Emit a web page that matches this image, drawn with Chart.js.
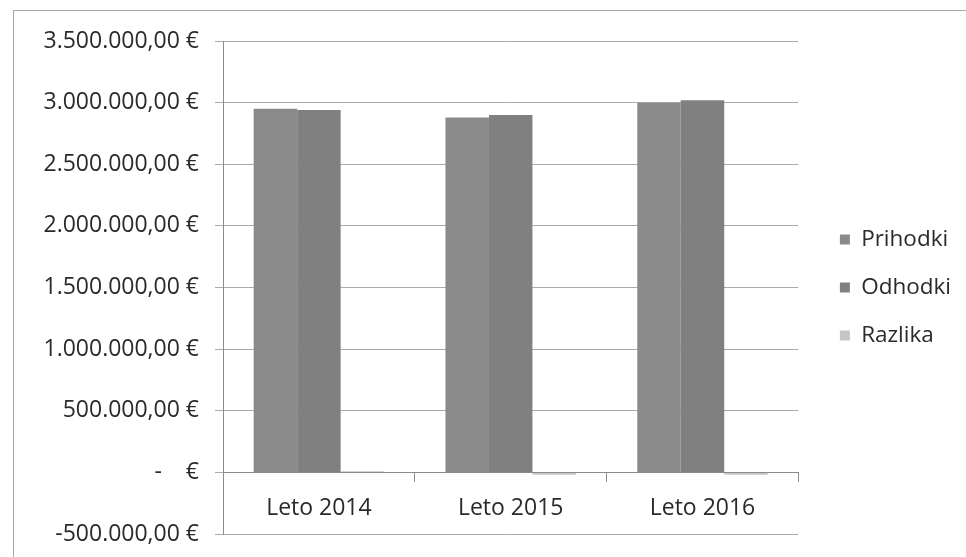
<!DOCTYPE html>
<html>
<head>
<meta charset="utf-8">
<script src="https://cdn.jsdelivr.net/npm/chart.js@4/dist/chart.umd.min.js"></script>
<style>
  html, body { margin: 0; padding: 0; background: #fff; overflow: hidden; }
  #frame { position: absolute; left: 13px; top: 10px; width: 1000px; height: 600px;
           border-top: 1px solid #a8a8a8; border-left: 1px solid #a8a8a8; }
  #wrap { position: absolute; left: 0; top: 0; width: 966px; height: 557px; }
</style>
</head>
<body>
<div id="frame"></div>
<div id="wrap"><canvas id="chart" width="966" height="557"></canvas></div>
<script>
// podatki (odčitani s slike)
const categories = ['Leto 2014', 'Leto 2015', 'Leto 2016'];
const seriesNames = ['Prihodki', 'Odhodki', 'Razlika'];
const prihodki = [2950000, 2880000, 3000000];
const odhodki = [2940000, 2900000, 3020000];
const razlika = [10000, -20000, -20000];
const yMin = -500000, yMax = 3500000, yStep = 500000;

const colors = ['#8a8a8a', '#808080', '#c6c6c6'];
const font = "'Open Sans', sans-serif";
const gridColor = '#ababab';

// 3.500.000,00 € ; nič se izpiše kot "-   €" (računovodski format)
function fmtEur(v) {
  if (v === 0) return '-    €';
  const s = Math.abs(v).toFixed(2).split('.');
  const int = s[0].replace(/\B(?=(\d{3})+(?!\d))/g, '.');
  return (v < 0 ? '-' : '') + int + ',' + s[1] + ' €';
}

const data = {
  labels: categories,
  datasets: [prihodki, odhodki, razlika].map((vals, i) => ({
    label: seriesNames[i],
    data: vals,
    backgroundColor: colors[i],
    borderWidth: 0,
    barPercentage: 1.0,
    categoryPercentage: 0.68
  }))
};

new Chart(document.getElementById('chart'), {
  type: 'bar',
  data,
  options: {
    responsive: false,
    animation: false,
    layout: { padding: { left: 0, top: 41, right: 5, bottom: 23 } },
    plugins: {
      tooltip: { enabled: false },
      legend: {
        position: 'right',
        fullSize: false,
        labels: { color: '#2a2a2a', font: { family: font, size: 22.5 }, boxWidth: 10, boxHeight: 10, padding: 25.5 }
      }
    },
    scales: {
      x: {
        position: { y: 0 },
        offset: true,
        grid: { offset: true, drawOnChartArea: false, drawTicks: true, tickLength: 9, color: '#8a8a8a' },
        border: { display: true, color: '#8a8a8a' },
        ticks: { color: '#2a2a2a', font: { family: font, size: 23 }, padding: 13 }
      },
      y: {
        min: yMin,
        max: yMax,
        afterFit: s => { s.width = 223; s.paddingTop = 0; s.paddingBottom = 0; },
        grid: { color: gridColor, tickLength: 8 },
        border: { display: true, color: '#8a8a8a' },
        ticks: { stepSize: yStep, color: '#2a2a2a', font: { family: font, size: 23 }, padding: 16, callback: fmtEur }
      },
      // prazen prostor med risbo in legendo
      gap: {
        type: 'linear',
        position: 'right',
        afterFit: s => { s.width = 16; },
        grid: { display: false },
        border: { display: false },
        ticks: { display: false }
      }
    }
  }
});
</script>
</body>
</html>
